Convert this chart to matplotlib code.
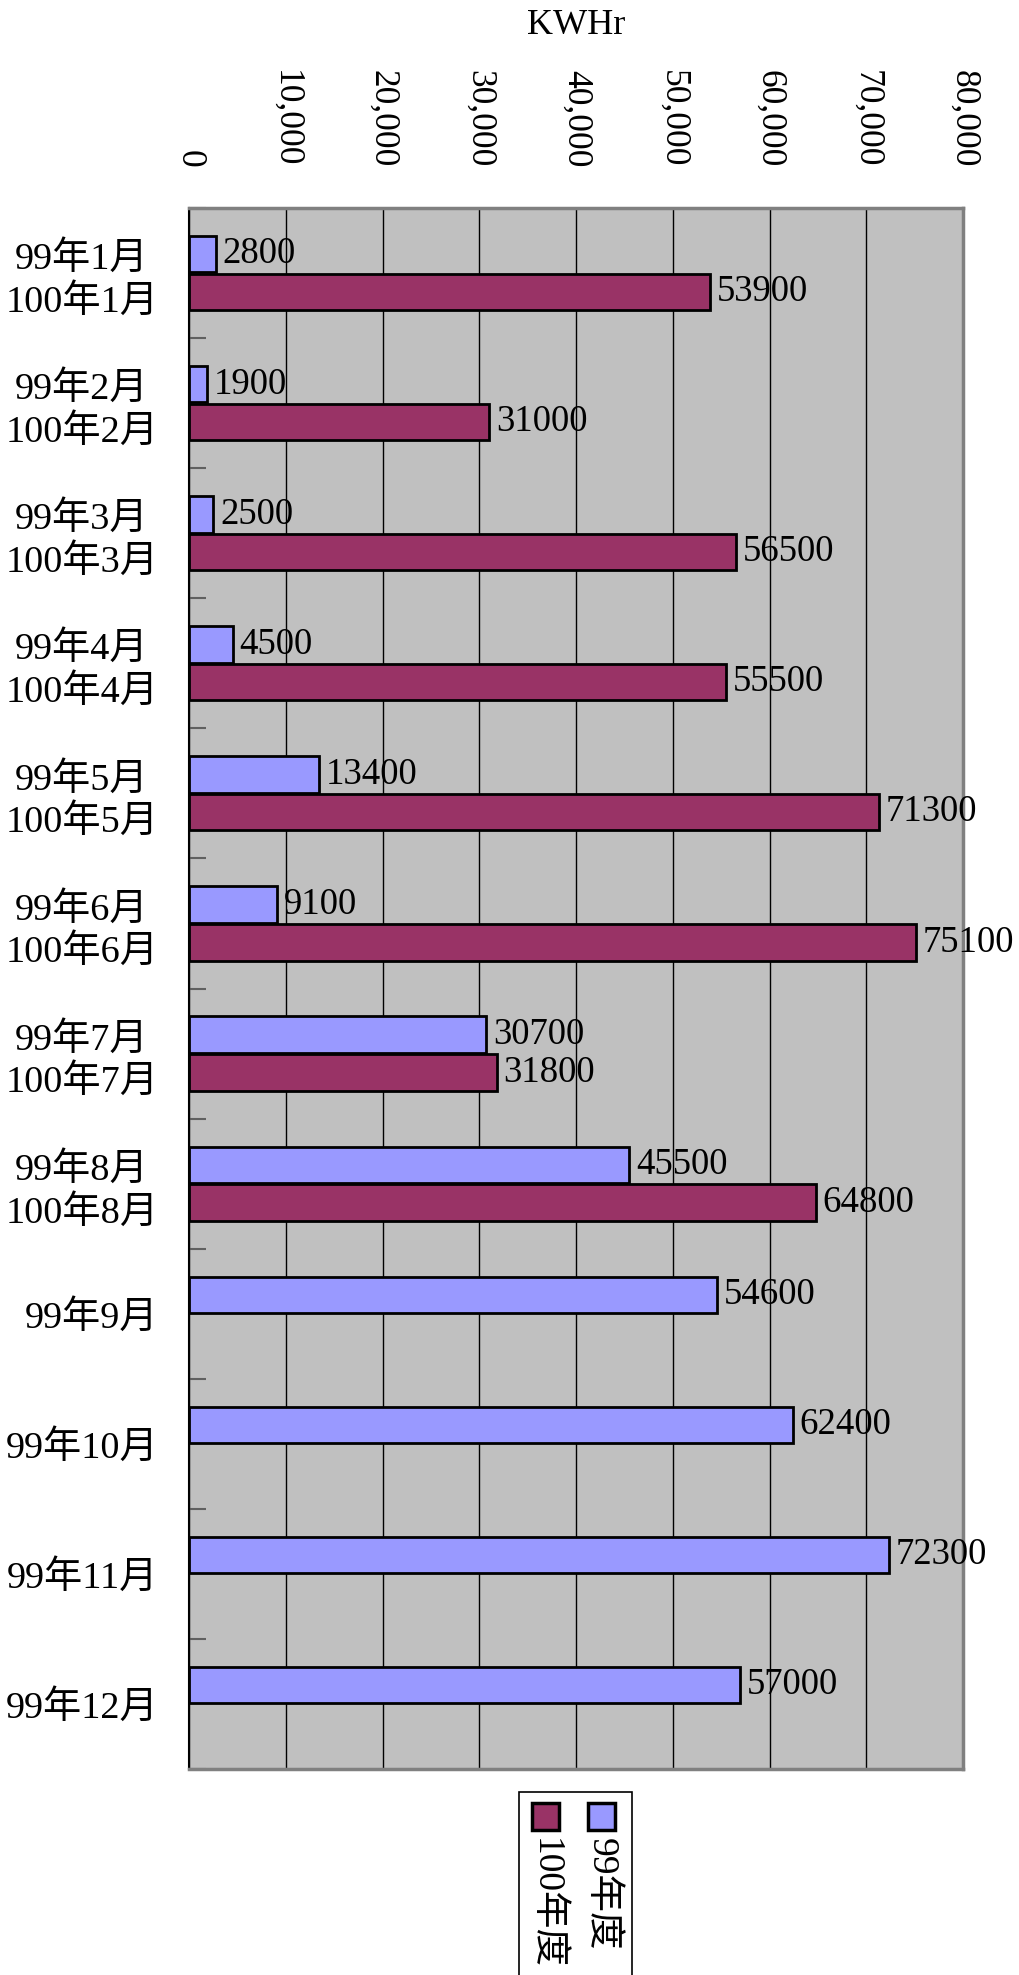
import numpy as np
import matplotlib
matplotlib.use('Agg')
import matplotlib.pyplot as plt
from matplotlib.patches import Rectangle
from matplotlib.ticker import FuncFormatter, MultipleLocator

plt.rcParams['font.family'] = ['Liberation Serif', 'Noto Sans CJK TC']

# ---- data ----
months = ["1月", "2月", "3月", "4月", "5月", "6月",
          "7月", "8月", "9月", "10月", "11月", "12月"]
kwh_99 = [2800, 1900, 2500, 4500, 13400, 9100,
          30700, 45500, 54600, 62400, 72300, 57000]
kwh_100 = [53900, 31000, 56500, 55500, 71300, 75100, 31800, 64800]
series_names = ["99年度", "100年度"]
col_99 = "#9999FF"
col_100 = "#993366"

ylabels = []
for i, m in enumerate(months):
    if i < len(kwh_100):
        ylabels.append(f"99年{m}\n100年{m}")
    else:
        ylabels.append(f"99年{m}")

# ---- figure ----
fig = plt.figure(figsize=(10.2, 19.75), dpi=100)
ax = fig.add_axes([189 / 1020, 1 - 1769 / 1975, 774 / 1020, 1561 / 1975])
ax.set_facecolor("#C0C0C0")

y = np.arange(len(months))
h = 0.28
off = 0.145
ax.barh(y - off, kwh_99, height=h, color=col_99, edgecolor="black",
        linewidth=2, zorder=3)
y100 = y[:len(kwh_100)]
ax.barh(y100 + off, kwh_100, height=h, color=col_100, edgecolor="black",
        linewidth=2, zorder=3)

lab_fs = 26.5
for yy, v in zip(y - off, kwh_99):
    ax.text(v + 700, yy, str(v), va="center", ha="left", fontsize=lab_fs,
            zorder=4)
for yy, v in zip(y100 + off, kwh_100):
    ax.text(v + 700, yy, str(v), va="center", ha="left", fontsize=lab_fs,
            zorder=4)

ax.set_xlim(0, 80000)
ax.set_ylim(len(months) - 0.5, -0.5)
ax.xaxis.set_major_locator(MultipleLocator(10000))
ax.xaxis.set_major_formatter(FuncFormatter(lambda v, p: f"{int(v):,}"))
ax.xaxis.tick_top()
ax.xaxis.set_label_position("top")
ax.tick_params(axis="x", which="major", length=0, pad=29, labelsize=25.5,
               labelrotation=-90)
for t in ax.get_xticklabels():
    t.set_va("bottom")
ax.set_xlabel("KWHr", fontsize=26, labelpad=26)
ax.grid(axis="x", color="black", linewidth=1, zorder=1)
ax.set_axisbelow(True)

ax.set_yticks(y)
ax.set_yticklabels(ylabels, fontsize=27.5, linespacing=1.25,
                   multialignment="center")
ax.set_yticks(np.arange(len(months) + 1) - 0.5, minor=True)
ax.tick_params(axis="y", which="major", length=0, pad=22)
ax.tick_params(axis="y", which="minor", direction="in", length=12,
               width=1.5, color="#606060")

for s in ax.spines.values():
    s.set_color("#808080")
    s.set_linewidth(2.5)
ax.spines["left"].set_color("black")
ax.spines["left"].set_linewidth(1.5)

# ---- legend (rotated, drawn by hand) ----
W, H = 1020, 1975
fig.patches.append(Rectangle((519 / W, -0.01), 113 / W, 0.01 + 1 - 1792 / H,
                             transform=fig.transFigure, facecolor="white",
                             edgecolor="black", linewidth=1.2))
for x0, c in [(588, col_99), (532, col_100)]:
    fig.patches.append(Rectangle((x0 / W, 1 - 1830 / H), 27 / W, 27 / H,
                                 transform=fig.transFigure, facecolor=c,
                                 edgecolor="black", linewidth=2.5))
for xc, name in [(601, series_names[0]), (545, series_names[1])]:
    fig.text(xc / W, 1 - 1838 / H, name, rotation=-90, ha="center",
             va="top", fontsize=27)

fig.savefig("out.png", dpi=100)
